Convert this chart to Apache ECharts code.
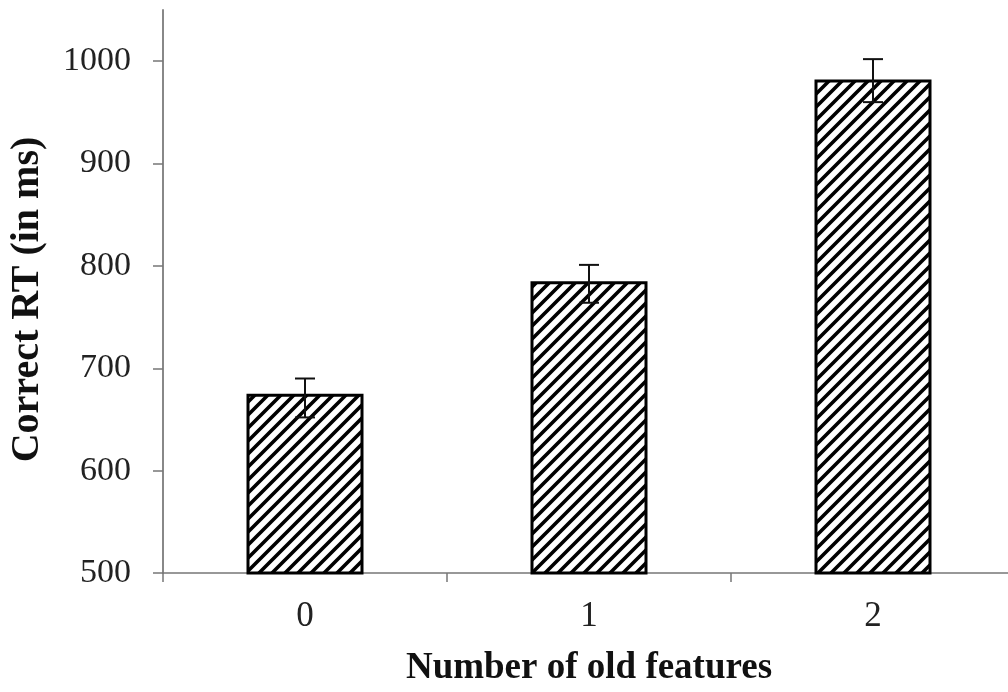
<!DOCTYPE html>
<html><head><meta charset="utf-8">
<script src="https://cdn.jsdelivr.net/npm/echarts@6/dist/echarts.min.js"></script>
<style>html,body{margin:0;padding:0;background:#fff}#c{width:1008px;height:692px}</style>
</head><body><div id="c"></div>
<script>
var categories = ['0', '1', '2'];
var meanRT = [675, 785, 982];
var errLow = [652, 764, 960];
var errHigh = [690, 801, 1002];
var yTicks = [500, 600, 700, 800, 900, 1000];

var tile = document.createElement('canvas');
tile.width = 13; tile.height = 13;
var g = tile.getContext('2d');
g.fillStyle = '#fff'; g.fillRect(0, 0, 13, 13);
g.strokeStyle = '#000'; g.lineWidth = 3.6; g.lineCap = 'square';
g.beginPath();
g.moveTo(-2, 15); g.lineTo(15, -2);
g.moveTo(-8, 8); g.lineTo(8, -8);
g.moveTo(5, 21); g.lineTo(21, 5);
g.stroke();

var serif = '"Liberation Serif", "Times New Roman", serif';
var chart = echarts.init(document.getElementById('c'), null, {renderer: 'canvas'});
chart.setOption({
  animation: false,
  backgroundColor: '#fff',
  grid: {left: 163, top: 10, bottom: 119, width: 852, containLabel: false, outerBoundsMode: 'none'},
  xAxis: {
    type: 'category', data: categories,
    axisLine: {lineStyle: {color: '#777', width: 1.5}},
    axisTick: {show: true, length: 9, lineStyle: {color: '#777', width: 1.5}},
    axisLabel: {color: '#222', fontFamily: serif, fontSize: 35, margin: 26},
    name: 'Number of old features', nameLocation: 'middle', nameGap: 77,
    nameTextStyle: {color: '#111', fontFamily: serif, fontSize: 37, fontWeight: 'bold'}
  },
  yAxis: {
    type: 'value', min: 500, max: 1050, interval: 100,
    splitLine: {show: false},
    axisLine: {show: true, lineStyle: {color: '#888', width: 2}},
    axisTick: {show: true, length: 10, customValues: yTicks, lineStyle: {color: '#777', width: 1.5}},
    axisLabel: {color: '#222', fontFamily: serif, fontSize: 34, margin: 32, customValues: yTicks,
      formatter: function (v) { return String(v); }},
    name: 'Correct RT (in ms)', nameLocation: 'middle', nameGap: 115, nameRotate: 90,
    nameTextStyle: {color: '#111', fontFamily: serif, fontSize: 40, fontWeight: 'bold', padding: [0, 16, 0, 0]}
  },
  series: [{
    type: 'bar', data: meanRT, barWidth: 117,
    itemStyle: {color: {image: tile, repeat: 'repeat'}, borderColor: '#000', borderWidth: 3}
  }, {
    type: 'custom',
    data: categories.map(function (c, i) { return [i, errLow[i], errHigh[i]]; }),
    renderItem: function (params, api) {
      var lo = api.coord([api.value(0), api.value(1)]);
      var hi = api.coord([api.value(0), api.value(2)]);
      var x = lo[0], hw = 10;
      var st = {stroke: '#111', lineWidth: 2};
      return {type: 'group', children: [
        {type: 'line', shape: {x1: x, y1: lo[1], x2: x, y2: hi[1]}, style: st},
        {type: 'line', shape: {x1: x - hw, y1: lo[1], x2: x + hw, y2: lo[1]}, style: st},
        {type: 'line', shape: {x1: x - hw, y1: hi[1], x2: x + hw, y2: hi[1]}, style: st}
      ]};
    },
    z: 10
  }]
});
</script></body></html>
